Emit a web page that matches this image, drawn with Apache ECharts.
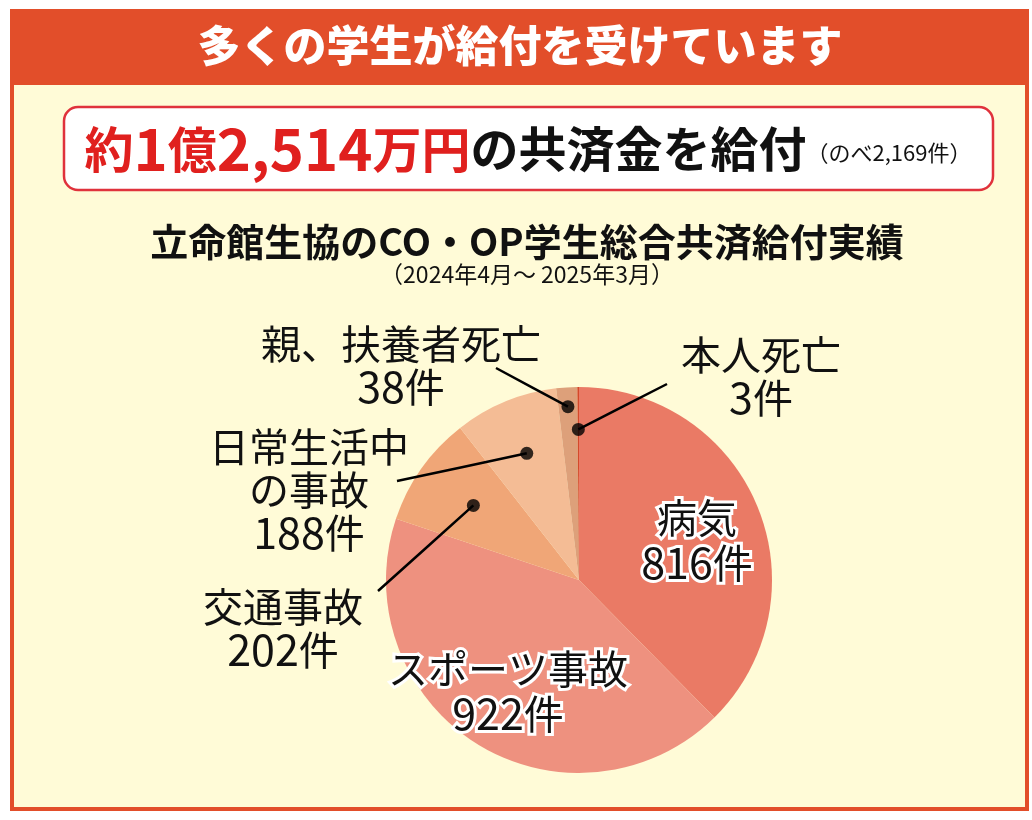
<!DOCTYPE html>
<html><head><meta charset="utf-8">
<script src="https://cdn.jsdelivr.net/npm/echarts@6/dist/echarts.min.js"></script>
<style>html,body{margin:0;padding:0;background:#fff}#c{width:1032px;height:820px}</style>
</head><body><div id="c"></div>
<script>
// ---- data ----
const categories = ['病気','スポーツ事故','交通事故','日常生活中の事故','親、扶養者死亡','本人死亡'];
const labelNames = ['病気','スポーツ事故','交通事故','日常生活中\nの事故','親、扶養者死亡','本人死亡'];
const counts = [816, 922, 202, 188, 38, 3];
const headline = '多くの学生が給付を受けています';
const chartTitle = '立命館生協のCO・OP学生総合共済給付実績';
const chartSubtitle = '（2024年4月～ 2025年3月）';

// ---- layout / style ----
const colors = ['#EA7A65','#EE917F','#F0A677','#F4BC95','#DDA07A','#D4492A'];
const labelPos = [[697,540],[508,691],[283,628],[309,490],[401,365],[761,376]];
const lineEnd = [null,null,[378,591],[397,481],[496,368],[667,384]];
const dotR = [null,null,0.67,0.71,0.9,0.78];
const inside = [true,true,false,false,false,false];
const CX = 579, CY = 580, R = 193;
const FONT = '"Noto Sans CJK JP","Noto Sans",sans-serif';

const total = counts.reduce((a,b)=>a+b,0);
let acc = 0;
const mids = counts.map(v => { const m = acc + v/2; acc += v; return m; });

const chart = echarts.init(document.getElementById('c'), null, {renderer:'canvas'});

// base pie (coloured sectors, no labels)
const baseData = categories.map((n,i)=>({name:n, value:counts[i], itemStyle:{color:colors[i]}}));

// overlay pie (transparent sectors, carries labels + leader lines above base pie)
const labelData = categories.map((n,i)=>({
  name: n,
  value: counts[i],
  itemStyle: {color:'rgba(0,0,0,0)'},
  label: inside[i] ? {
    color:'#111', textBorderColor:'#fff', textBorderWidth:6, lineHeight:45
  } : {color:'#111', lineHeight:43},
  labelLine: {show: !inside[i]}
}));

const dotData = [];
categories.forEach((n,i)=>{ if(!inside[i]) dotData.push([dotR[i], mids[i]]); });

const NUMSTYLE = {fontSize:43, fontFamily:FONT};

chart.setOption({
  animation:false,
  backgroundColor:'#ffffff',
  graphic:[
    {type:'rect', z:-10, silent:true, shape:{x:10,y:9,width:1019,height:802}, style:{fill:'#E24E2A'}},
    {type:'rect', z:-9, silent:true, shape:{x:14,y:85,width:1011,height:722}, style:{fill:'#FFFBD7'}},
    {type:'text', z:5, x:520, y:46, style:{text:headline, fill:'#ffffff',
      font:'900 43px '+FONT, align:'center', verticalAlign:'middle', textAlign:'center', textVerticalAlign:'middle'}},
    {type:'rect', z:-8, shape:{x:64,y:107,width:929,height:83,r:14}, style:{fill:'#ffffff', stroke:'#E0323C', lineWidth:2.5}},
    {type:'text', z:5, x:528, y:149, style:{
      text:'{r|約}{d|1}{r|億}{d|2,514}{r|万円}{k|の共済金を給付}{s|（のべ2,169件）}',
      align:'center', verticalAlign:'middle', textAlign:'center', textVerticalAlign:'middle',
      rich:{
        r:{fill:'#E0201E', color:'#E0201E', font:'bold 49px '+FONT, fontSize:49, fontWeight:'bold', fontFamily:FONT},
        d:{fill:'#E0201E', color:'#E0201E', font:'bold 58px '+FONT, fontSize:58, fontWeight:'bold', fontFamily:FONT},
        k:{fill:'#111', color:'#111', font:'bold 48px '+FONT, fontSize:48, fontWeight:'bold', fontFamily:FONT},
        s:{fill:'#111', color:'#111', font:'22px '+FONT, fontSize:22, fontFamily:FONT, padding:[8,0,0,0]}
      }}},
    {type:'text', z:5, x:527, y:242, style:{text:chartTitle, fill:'#111',
      font:'bold 38px '+FONT, align:'center', verticalAlign:'middle', textAlign:'center', textVerticalAlign:'middle'}},
    {type:'text', z:5, x:527, y:274, style:{text:chartSubtitle, fill:'#111',
      font:'23px '+FONT, align:'center', verticalAlign:'middle', textAlign:'center', textVerticalAlign:'middle'}}
  ],
  polar:{center:[CX,CY], radius:R},
  angleAxis:{type:'value', min:0, max:total, startAngle:90, clockwise:true, show:false},
  radiusAxis:{type:'value', min:0, max:1, show:false},
  series:[
    {
      type:'pie',
      center:[CX,CY],
      radius:[0,R],
      startAngle:90,
      clockwise:true,
      z:2,
      data:baseData,
      itemStyle:{borderWidth:0},
      label:{show:false},
      labelLine:{show:false},
      emphasis:{disabled:true},
      silent:true
    },
    {
      type:'pie',
      center:[CX,CY],
      radius:[0,R],
      startAngle:90,
      clockwise:true,
      avoidLabelOverlap:false,
      z:3,
      data:labelData,
      itemStyle:{borderWidth:0},
      label:{
        show:true,
        position:'outside',
        fontFamily:FONT,
        fontSize:40,
        color:'#111',
        align:'center',
        formatter: p => labelNames[p.dataIndex] + '\n{n|' + p.value + '}件',
        rich:{n:NUMSTYLE}
      },
      labelLine:{show:true, length:10, length2:10, lineStyle:{color:'#000', width:2.5}},
      labelLayout: function(p){
        const i = p.dataIndex;
        const res = {x:labelPos[i][0], y:labelPos[i][1], align:'center', verticalAlign:'middle'};
        if(!inside[i] && p.labelLinePoints && p.labelLinePoints.length){
          const p0 = p.labelLinePoints[0];
          const f = dotR[i];
          const d = [CX + (p0[0]-CX)*f, CY + (p0[1]-CY)*f];
          const e = lineEnd[i];
          res.labelLinePoints = [d, [(d[0]+e[0])/2, (d[1]+e[1])/2], e];
        }
        return res;
      },
      emphasis:{disabled:true},
      silent:true
    },
    {
      type:'scatter',
      coordinateSystem:'polar',
      data:dotData,
      symbol:'circle',
      symbolSize:13,
      itemStyle:{color:'#000'},
      z:5,
      silent:true
    }
  ]
});
</script>
</body></html>
